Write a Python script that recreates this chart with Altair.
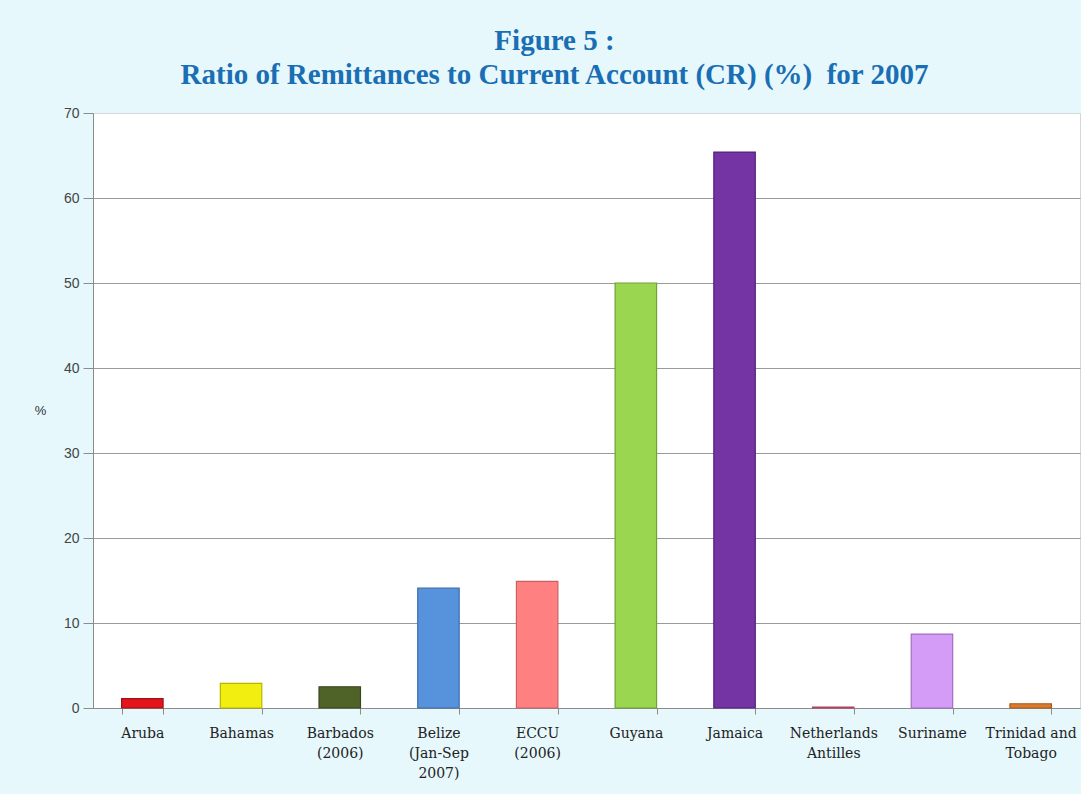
import altair as alt
import pandas as pd

categories = ["Aruba", "Bahamas", "Barbados|(2006)", "Belize|(Jan-Sep|2007)", "ECCU|(2006)",
              "Guyana", "Jamaica", "Netherlands|Antilles", "Suriname", "Trinidad and|Tobago"]
values = [1.1, 2.9, 2.5, 14.1, 14.9, 50.0, 65.4, 0.1, 8.7, 0.5]
colors = ["#E3141B", "#F2EE10", "#4F6228", "#5792DC", "#FF8080",
          "#9BD650", "#7434A4", "#E0708A", "#D49CF6", "#DB7A2C"]
strokes = ["#A01015", "#B8B400", "#38461C", "#3D6EAC", "#C86060",
           "#6FA232", "#55207C", "#B04060", "#A070C0", "#A85A18"]
y_ticks = [0, 10, 20, 30, 40, 50, 60, 70]

df = pd.DataFrame({"cat": categories, "val": values, "color": colors, "stroke": strokes})

bars = alt.Chart(df).mark_bar(strokeWidth=1.2).encode(
    x=alt.X("cat:N", sort=categories, title=None,
            scale=alt.Scale(paddingInner=0.58, paddingOuter=0.29),
            axis=alt.Axis(labelExpr="isString(datum.value) ? split(datum.value, '|') : ''",
                          labelAngle=0,
                          labelFont="DejaVu Serif", labelFontSize=14, labelColor="#222222",
                          labelPadding=12, labelLineHeight=20, labelBaseline="top",
                          domainColor="#8C8C8C", tickColor="#8C8C8C", tickSize=6,
                          tickBand="extent", grid=False)),
    y=alt.Y("val:Q", title="%",
            scale=alt.Scale(domain=[0, 70], nice=False),
            axis=alt.Axis(values=y_ticks, labelFont="Liberation Sans", labelFontSize=14,
                          labelColor="#444444", labelPadding=4, tickSize=10,
                          tickColor="#8C8C8C", domainColor="#8C8C8C",
                          gridColor={"condition": {"test": "datum.value == 70", "value": "#D0D8DA"},
                                     "value": "#9A9A9A"},
                          gridWidth=1,
                          titleAngle=0, titleFont="Liberation Sans", titleFontSize=13,
                          titleFontWeight="normal", titleColor="#333333",
                          titleX=-53, titleY=304)),
    color=alt.Color("color:N", scale=None),
    stroke=alt.Stroke("stroke:N", scale=None),
).properties(
    width=987, height=595,
    title=alt.TitleParams(["Figure 5 :", "Ratio of Remittances to Current Account (CR) (%)\u00a0 for 2007"],
                          font="Liberation Serif", fontSize=29, fontWeight="bold",
                          color="#1A6EB3", anchor="middle", dx=-32, offset=16, lineHeight=34),
    background="#E6F8FC",
    padding={"left": 93, "top": 113, "right": 1, "bottom": 86},
    autosize=alt.AutoSizeParams(type="none"),
).configure_view(stroke="#D0D8DA", fill="white")

chart = bars
chart.save("out.html", embed_options={"renderer": "svg", "actions": False})
